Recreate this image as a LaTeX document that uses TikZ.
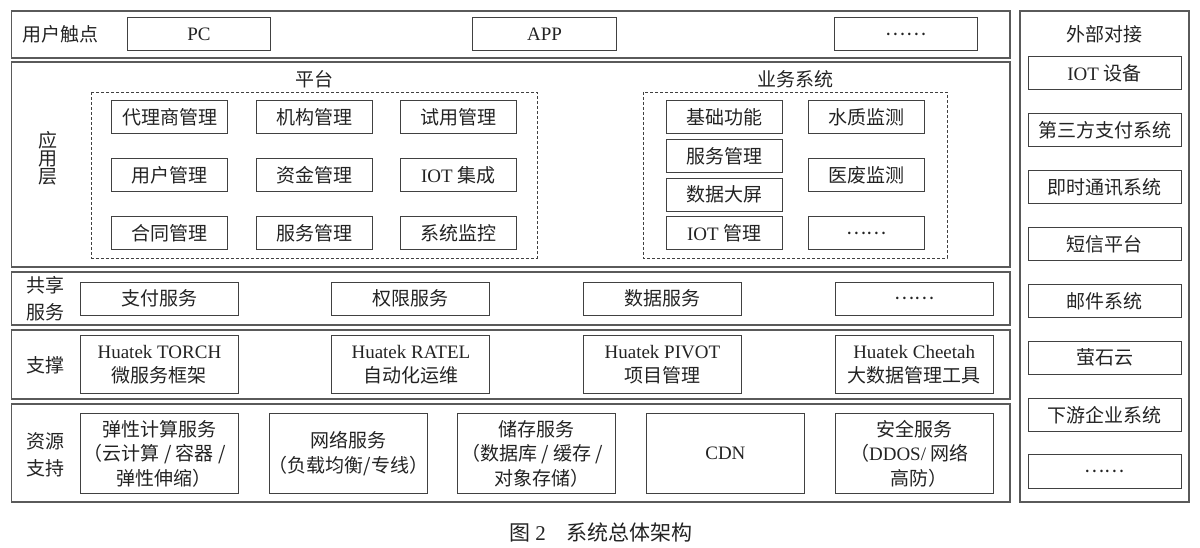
\documentclass[tikz,border=0pt]{standalone}
\usepackage{fontspec}
\setmainfont{Liberation Serif}
\newfontfamily\cjk{Noto Sans CJK SC}
\newfontfamily\cjkhalf{Noto Sans CJK SC}[RawFeature=+halt]
\newcommand{\zh}[1]{{\cjk #1}}
\newcommand{\lpar}{{\cjkhalf （}}
\newcommand{\rpar}{{\cjkhalf ）}}
\definecolor{frameG}{RGB}{90,90,90}
\definecolor{boxG}{RGB}{65,65,65}
\definecolor{txtK}{RGB}{35,35,35}

\begin{document}
\begin{tikzpicture}[x=1pt,y=-1pt,every node/.style={text=txtK}]
  \tikzset{frame/.style={draw=frameG,line width=1.3pt},
    grp/.style={draw=boxG,line width=0.9pt,dash pattern=on 3pt off 2pt},
    bx/.style={draw=boxG,line width=1pt,inner sep=0pt,align=center,font=\fontsize{19}{24.5}\selectfont},
    topbx/.style={bx,minimum width=143.5pt,minimum height=33.3pt},
    appbx/.style={bx,minimum width=116pt,minimum height=33.3pt},
    layerbx/.style={bx,minimum width=158pt,minimum height=#1},
    extbx/.style={bx,minimum width=153pt,minimum height=33.3pt},
    lbl/.style={align=center,inner sep=0pt,font=\fontsize{19}{27}\selectfont}}
  \useasboundingbox (0,0) rectangle (1200,548);
  % layer frames
  \draw[frame] (11.5,11) rectangle (1010,58);
  \draw[frame] (11.5,62) rectangle (1010,267);
  \draw[frame] (11.5,272) rectangle (1010,325);
  \draw[frame] (11.5,330) rectangle (1010,399);
  \draw[frame] (11.5,404) rectangle (1010,502);
  \draw[frame] (1020,11) rectangle (1189,502);
  % user touch points
  \node[lbl] (touch) at (61,34.3) {\zh{用户触点}};
  \node[topbx] (pc) at (199,34.3) {PC};
  \node[topbx] (app) at (544.5,34.3) {APP};
  \node[topbx] (tmore) at (906,34.3) {\zh{……}};
  % application layer
  \node[lbl,font=\fontsize{19}{18}\selectfont] (applbl) at (48,158) {\zh{应}\\\zh{用}\\\zh{层}};
  \node[lbl] (plat) at (314,79) {\zh{平台}};
  \draw[grp] (91.8,92) rectangle (537,258);
  \node[appbx] (agent) at (169.7,117.3) {\zh{代理商管理}};
  \node[appbx] (org) at (314.2,117.3) {\zh{机构管理}};
  \node[appbx] (trial) at (458.3,117.3) {\zh{试用管理}};
  \node[appbx] (user) at (169.7,175.3) {\zh{用户管理}};
  \node[appbx] (fund) at (314.2,175.3) {\zh{资金管理}};
  \node[appbx] (iotint) at (458.3,175.3) {IOT \zh{集成}};
  \node[appbx] (contract) at (169.7,233.3) {\zh{合同管理}};
  \node[appbx] (svcmgr) at (314.2,233.3) {\zh{服务管理}};
  \node[appbx] (monitor) at (458.3,233.3) {\zh{系统监控}};
  \node[lbl] (biz) at (795,79) {\zh{业务系统}};
  \draw[grp] (643,92) rectangle (947,258);
  \node[appbx] (basic) at (724.2,117.3) {\zh{基础功能}};
  \node[appbx] (bizsvc) at (724.2,156) {\zh{服务管理}};
  \node[appbx] (screen) at (724.2,194.7) {\zh{数据大屏}};
  \node[appbx] (iotmgr) at (724.2,233.3) {IOT \zh{管理}};
  \node[appbx] (water) at (866.2,117.3) {\zh{水质监测}};
  \node[appbx] (medical) at (866.2,175.3) {\zh{医废监测}};
  \node[appbx] (bmore) at (866.2,233.3) {\zh{……}};
  % shared services
  \node[lbl] (sharelbl) at (45,298.5) {\zh{共享}\\\zh{服务}};
  \node[layerbx=32.7pt] (pay) at (159.4,298.7) {\zh{支付服务}};
  \node[layerbx=32.7pt] (auth) at (410.9,298.7) {\zh{权限服务}};
  \node[layerbx=32.7pt] (data) at (662.4,298.7) {\zh{数据服务}};
  \node[layerbx=32.7pt] (smore) at (914.2,298.7) {\zh{……}};
  % support
  \node[lbl] (suplbl) at (45,365.7) {\zh{支撑}};
  \node[layerbx=57.6pt] (torch) at (159.4,364.5) {Huatek TORCH\\\zh{微服务框架}};
  \node[layerbx=57.6pt] (ratel) at (410.9,364.5) {Huatek RATEL\\\zh{自动化运维}};
  \node[layerbx=57.6pt] (pivot) at (662.4,364.5) {Huatek PIVOT\\\zh{项目管理}};
  \node[layerbx=57.6pt] (cheetah) at (914.2,364.5) {Huatek Cheetah\\\zh{大数据管理工具}};
  % resources
  \node[lbl] (reslbl) at (45,455) {\zh{资源}\\\zh{支持}};
  \node[layerbx=79.6pt] (compute) at (159.4,453.5) {\zh{弹性计算服务}\\\lpar\zh{云计算 / 容器 /}\\\zh{弹性伸缩}\rpar};
  \node[layerbx=79.6pt] (net) at (348.5,453.5) {\zh{网络服务}\\\lpar\zh{负载均衡/专线}\rpar};
  \node[layerbx=79.6pt] (store) at (536.9,453.5) {\zh{储存服务}\\\lpar\zh{数据库 / 缓存 /}\\\zh{对象存储}\rpar};
  \node[layerbx=79.6pt] (cdn) at (725.4,453.5) {CDN};
  \node[layerbx=79.6pt] (secure) at (914.2,453.5) {\zh{安全服务}\\\lpar DDOS/ \zh{网络}\\\zh{高防}\rpar};
  % external
  \node[lbl] (extlbl) at (1104.5,34) {\zh{外部对接}};
  \node[extbx] (iotdev) at (1104.6,73.3) {IOT \zh{设备}};
  \node[extbx] (thirdpay) at (1104.6,130.2) {\zh{第三方支付系统}};
  \node[extbx] (im) at (1104.6,187.1) {\zh{即时通讯系统}};
  \node[extbx] (sms) at (1104.6,244) {\zh{短信平台}};
  \node[extbx] (mail) at (1104.6,300.9) {\zh{邮件系统}};
  \node[extbx] (ezviz) at (1104.6,357.8) {\zh{萤石云}};
  \node[extbx] (down) at (1104.6,414.7) {\zh{下游企业系统}};
  \node[extbx] (emore) at (1104.6,471.6) {\zh{……}};
  % caption
  \node[lbl,font=\fontsize{21}{24}\selectfont] (cap) at (601,532) {\zh{图} 2\hspace{1em}\zh{系统总体架构}};
\end{tikzpicture}
\end{document}
